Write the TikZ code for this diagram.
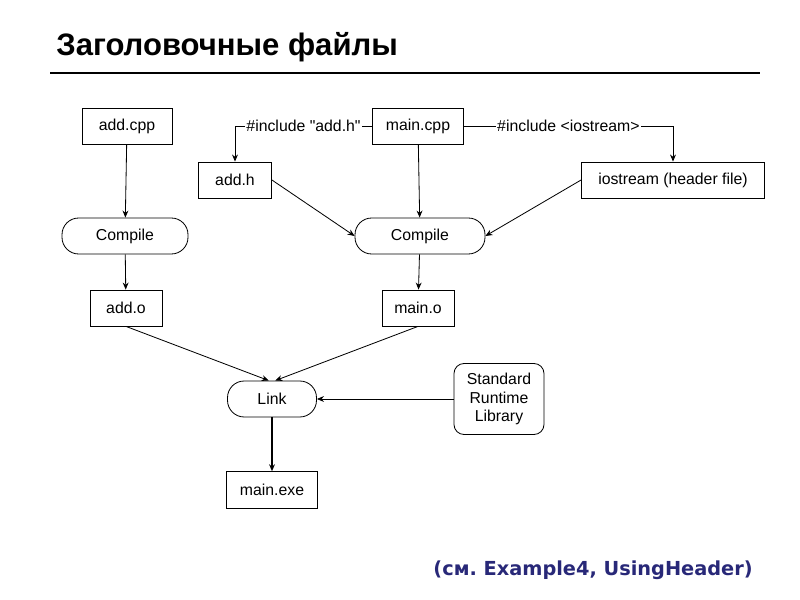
\documentclass[tikz,border=0pt]{standalone}
\usepackage{fontspec}
\setmainfont{Liberation Sans}[Ligatures=TeXOff]
\newfontfamily\footfont{DejaVu Sans}
\usetikzlibrary{arrows.meta}
\definecolor{footblue}{RGB}{40,40,120}
\frenchspacing

\begin{document}
\begin{tikzpicture}[x=0.03cm,y=-0.03cm,line width=0.7pt,
    >={Stealth[length=6pt,width=5pt]},
    box/.style={draw,rectangle,minimum height=1.08cm,inner sep=0pt},
    proc/.style={draw,rectangle,rounded corners=0.5cm,minimum height=1.08cm,inner sep=0pt},
    lbl/.style={fill=white,inner sep=1pt}]

        \useasboundingbox (0,0) rectangle (800,600);

        \node (title) [anchor=west,font=\fontsize{26.5}{30}\selectfont\bfseries] at (52,47) {Заголовочные файлы};
        \draw[line width=1pt] (50,73) -- (760,73);

        \begin{scope}[every node/.style={font=\fontsize{13.5}{16}\selectfont}]
          \node (addcpp)  [box,minimum width=2.7cm]  at (127,126) {add.cpp};
          \node (maincpp) [box,minimum width=2.73cm] at (418,126) {main.cpp};
          \node (addh)    [box,minimum width=2.19cm] at (235,180) {add.h};
          \node (iostr)   [box,minimum width=5.49cm] at (673,180) {iostream (header file)};
          \node (compl)   [proc,minimum width=3.78cm] at (125,236) {Compile};
          \node (compr)   [proc,minimum width=3.9cm]  at (420,236) {Compile};
          \node (addo)    [box,minimum width=2.16cm] at (126,308) {add.o};
          \node (maino)   [box,minimum width=2.16cm] at (418,308) {main.o};
          \node (link)    [proc,minimum width=2.67cm] at (272,399) {Link};
          \node (stdlib)  [box,rounded corners=0.3cm,minimum width=2.7cm,minimum height=2.13cm,align=center]
                          at (499,399) {Standard\\Runtime\\Library};
          \node (mainexe) [box,minimum width=2.73cm,minimum height=1.1cm] at (272,490) {main.exe};

          \draw[->] (maincpp.west) -- node[lbl] {\#include "add.h"} (addh.north |- maincpp.west) -- (addh.north);
          \draw[->] (maincpp.east) -- node[lbl] {\#include <iostream>} (iostr.north |- maincpp.east) -- (iostr.north);
        \end{scope}

        \path[->] (addcpp)  edge (compl)
                  (maincpp) edge (compr)
                  (addh.east)  edge (compr.west)
                  (iostr.west) edge (compr.east)
                  (compl)   edge (addo)
                  (compr)   edge (maino)
                  (addo.south)  edge (link.100)
                  (maino.south) edge (link.80)
                  (stdlib)  edge (link)
                  (link)    edge[line width=1.4pt] (mainexe);

        \node (note) [anchor=east,text=footblue,font=\footfont\bfseries\fontsize{16.5}{20}\selectfont] at (757,570) {(см. Example4, UsingHeader)};

      \end{tikzpicture}
\end{document}
